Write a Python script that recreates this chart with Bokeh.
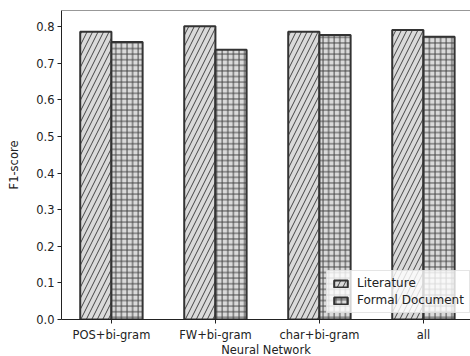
from bokeh.plotting import figure
from bokeh.models import ColumnDataSource, FixedTicker, Range1d, Legend, LegendItem, Span
from bokeh.embed import file_html
from bokeh.resources import INLINE

categories = ["POS+bi-gram", "FW+bi-gram", "char+bi-gram", "all"]
literature = [0.786, 0.801, 0.786, 0.791]
formal_document = [0.758, 0.737, 0.777, 0.772]
y_ticks = [0.0, 0.1, 0.2, 0.3, 0.4, 0.5, 0.6, 0.7, 0.8]

idx = list(range(len(categories)))
bw = 0.3
src_lit = ColumnDataSource(dict(x=[i - bw / 2 for i in idx], top=literature))
src_for = ColumnDataSource(dict(x=[i + bw / 2 for i in idx], top=formal_document))

y_top = 0.844
p = figure(frame_width=409, frame_height=309, output_backend="svg", toolbar_location=None,
           x_range=Range1d(-0.48, -0.48 + 409 / 104), y_range=Range1d(0, y_top),
           min_border_left=61, min_border_right=0, min_border_top=10, min_border_bottom=0)

FONT = "DejaVu Sans"
FS = "11.5px"
edge = "#333333"
r1 = p.vbar(x="x", top="top", width=bw, source=src_lit, fill_color="#dadada",
            line_color=edge, line_width=2, hatch_pattern="/", hatch_scale=11,
            hatch_color="#444444", hatch_weight=1)
r2 = p.vbar(x="x", top="top", width=bw, source=src_for, fill_color="#dadada",
            line_color=edge, line_width=2, hatch_pattern="+", hatch_scale=5.6,
            hatch_color="#444444", hatch_weight=1)

p.grid.visible = False
p.outline_line_color = None
p.add_layout(Span(location=y_top, dimension="width", line_color="#333333", line_width=1))

p.xaxis.ticker = FixedTicker(ticks=idx)
p.xaxis.major_label_overrides = {i: c for i, c in zip(idx, categories)}
p.yaxis.ticker = FixedTicker(ticks=y_ticks)
p.yaxis.major_label_overrides = {t: f"{t:.1f}" for t in y_ticks}
for ax in (p.xaxis, p.yaxis):
    ax.axis_line_color = "#222222"
    ax.major_tick_line_color = "#222222"
    ax.major_tick_out = 4
    ax.major_tick_in = 0
    ax.minor_tick_line_color = None
    ax.major_label_text_font = FONT
    ax.major_label_text_font_size = FS
    ax.major_label_text_color = "#222222"
    ax.axis_label_text_font = FONT
    ax.axis_label_text_font_size = FS
    ax.axis_label_text_font_style = "normal"
    ax.axis_label_text_color = "#222222"
    ax.major_label_standoff = 3
p.xaxis.major_label_standoff = 4
p.xaxis.axis_label = "Neural Network"
p.yaxis.axis_label = "F1-score"
p.xaxis.axis_label_standoff = -2
p.yaxis.axis_label_standoff = 12

legend = Legend(items=[LegendItem(label="Literature", renderers=[r1]),
                       LegendItem(label="Formal Document", renderers=[r2])],
                location=(265, 6))
legend.label_text_font = FONT
legend.label_text_font_size = "12px"
legend.label_text_color = "#222222"
legend.glyph_width = 17
legend.glyph_height = 9
legend.spacing = 3
legend.padding = 5
legend.margin = 0
legend.label_standoff = 8
legend.border_line_color = "#cccccc"
legend.background_fill_alpha = 0.8
p.add_layout(legend)

open("out.html", "w").write(file_html(p, INLINE))
